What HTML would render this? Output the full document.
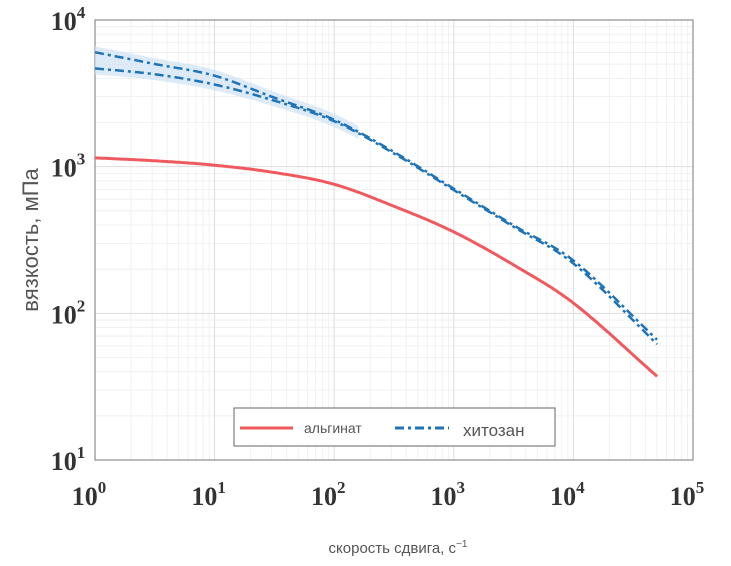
<!DOCTYPE html><html><head><meta charset="utf-8"><style>body{margin:0;background:#fff}svg{display:block}</style></head><body>
<svg id="s" width="731" height="566" xmlns="http://www.w3.org/2000/svg" font-family="Liberation Serif, serif"></svg>
<script>
const s=document.getElementById('s');
const L=95,R=693,T=20,B=460;
const X=v=>L+(R-L)*v/5, Y=v=>T+(B-T)*(4-v)/3;
let h='';
for(let d=0;d<5;d++)for(let k=2;k<10;k++){const x=X(d+Math.log10(k));h+=`<line x1="${x}" y1="${T}" x2="${x}" y2="${B}" stroke="#eee" stroke-width="0.8"/>`;}
for(let d=1;d<4;d++)for(let k=2;k<10;k++){const y=Y(d+Math.log10(k));h+=`<line x1="${L}" y1="${y}" x2="${R}" y2="${y}" stroke="#eee" stroke-width="0.8"/>`;}
for(let d=1;d<5;d++){h+=`<line x1="${X(d)}" y1="${T}" x2="${X(d)}" y2="${B}" stroke="#ddd"/>`;}
for(let d=2;d<4;d++){h+=`<line x1="${L}" y1="${Y(d)}" x2="${R}" y2="${Y(d)}" stroke="#ddd"/>`;}
h+=`<rect x="${L}" y="${T}" width="${R-L}" height="${B-T}" fill="none" stroke="#777"/>`;
function interp(p,x){for(let i=0;i<p.length-1;i++){if(x<=p[i+1][0]){const h0=p[i+1][0]-p[i][0];const t=(x-p[i][0])/h0;
const m=j=>{const a=p[Math.max(j-1,0)],b=p[Math.min(j+1,p.length-1)];return (b[1]-a[1])/(b[0]-a[0]);};
const m0=m(i)*h0,m1=m(i+1)*h0,t2=t*t,t3=t2*t;
return (2*t3-3*t2+1)*p[i][1]+(t3-2*t2+t)*m0+(-2*t3+3*t2)*p[i+1][1]+(t3-t2)*m1;}}return p[p.length-1][1];}
function path(p){let d='';for(let x=0;x<=4.701;x+=0.02){d+=(d?'L':'M')+X(x).toFixed(1)+' '+Y(interp(p,x)).toFixed(1);}return d;}
const red=[[0,3.06],[0.5,3.04],[1,3.01],[1.5,2.96],[2,2.88],[2.5,2.73],[3,2.555],[3.5,2.33],[4,2.07],[4.7,1.57]];
const bu=[[0,3.78],[0.5,3.70],[1,3.62],[1.5,3.47],[2,3.32],[2.5,3.1],[3,2.85],[3.5,2.6],[4,2.36],[4.7,1.82]];
const bl=[[0,3.67],[0.5,3.63],[1,3.56],[1.5,3.45],[2,3.31],[2.5,3.09],[3,2.84],[3.5,2.59],[4,2.34],[4.7,1.79]];
let up=[],lo=[];for(let x=0;x<=2.2;x+=0.05){up.push(X(x)+','+Y(interp(bu,x)+0.04));lo.unshift(X(x)+','+Y(interp(bl,x)-0.04));}
h+=`<polygon points="${up.join(' ')} ${lo.join(' ')}" fill="#cfe3f5" opacity="0.7"/>`;
h+=`<path d="${path(red)}" fill="none" stroke="#f05a5e" stroke-width="3"/>`;
h+=`<path d="${path(bu)}" fill="none" stroke="#1f73b8" stroke-width="2.5" stroke-dasharray="9 4 3 4"/>`;
h+=`<path d="${path(bl)}" fill="none" stroke="#1f73b8" stroke-width="2.5" stroke-dasharray="9 4 3 4"/>`;
for(let d=0;d<=5;d++){h+=`<text x="${X(d)-6}" y="505" font-size="26" font-weight="bold" text-anchor="middle" fill="#333">10<tspan dy="-12" font-size="17">${d}</tspan></text>`;}
for(let d=1;d<=4;d++){h+=`<text x="68" y="${Y(d)+10}" font-size="26" font-weight="bold" text-anchor="middle" fill="#333">10<tspan dy="-12" font-size="17">${d}</tspan></text>`;}
h+=`<text x="398" y="553" font-family="Liberation Sans, sans-serif" font-size="15" text-anchor="middle" fill="#555">скорость сдвига, с<tspan dy="-6" font-size="10">−1</tspan></text>`;
h+=`<text transform="translate(38,240) rotate(-90)" font-family="Liberation Sans, sans-serif" font-size="22" text-anchor="middle" fill="#555">вязкость, мПа</text>`;
h+=`<rect x="234" y="408" width="321" height="38" fill="#fff" stroke="#666"/>`;
h+=`<line x1="240" y1="428" x2="293" y2="428" stroke="#f05a5e" stroke-width="3"/>`;
h+=`<text x="304" y="433" font-family="Liberation Sans, sans-serif" font-size="14" fill="#555">альгинат</text>`;
h+=`<line x1="395" y1="428" x2="449" y2="428" stroke="#1f73b8" stroke-width="3" stroke-dasharray="9 4 3 4"/>`;
h+=`<text x="463" y="436" font-family="Liberation Sans, sans-serif" font-size="17" fill="#555">хитозан</text>`;
s.innerHTML=h;
</script></body></html>
